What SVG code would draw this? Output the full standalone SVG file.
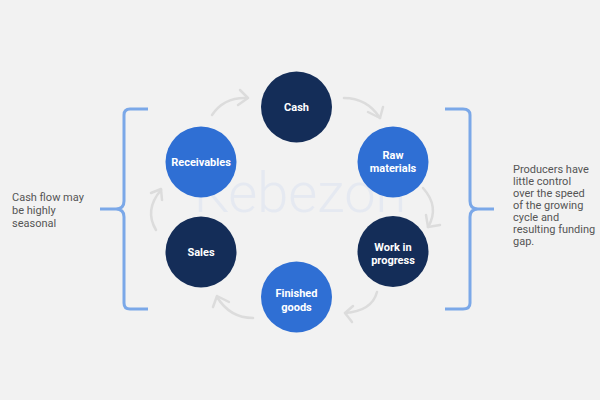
<svg xmlns="http://www.w3.org/2000/svg" width="600" height="400" viewBox="0 0 600 400">
<defs>
<style>
.dark{fill:#142d58}
.blue{fill:#2f6fd4}
.lbl{font-family:Roboto,"Liberation Sans",sans-serif;font-weight:bold;font-size:11px;fill:#ffffff;text-anchor:middle}
.note{font-family:Roboto,"Liberation Sans",sans-serif;font-size:11px;fill:#555555}
.arc{fill:none;stroke:#dcdcdc;stroke-width:2.5;stroke-linecap:round;stroke-linejoin:round}
.brace{fill:none;stroke:#7ba8e8;stroke-width:3;stroke-linecap:butt;stroke-linejoin:round}
</style>
</defs>
<rect width="600" height="400" fill="#f2f2f2"/>
<text x="300" y="212" font-family="Roboto,'Liberation Sans',sans-serif" font-weight="300" font-size="56" fill="#e5e9f1" text-anchor="middle">Kebezon</text>
<g id="connectors">
<path class="arc" d="M212,115 Q224,97 247,98"/>
<path class="arc" d="M240,90 L248,98 L238,105"/>
<path class="arc" d="M344,98 Q367,98 380,118"/>
<path class="arc" d="M368,112 L380,118 L383,107"/>
<path class="arc" d="M423,188 Q440,207 428,227"/>
<path class="arc" d="M426,215 L428,227 L440,225"/>
<path class="arc" d="M377,292 Q372,311 345,313"/>
<path class="arc" d="M353,306 L345,313 L352,322"/>
<path class="arc" d="M253,318 Q230,318 217,297"/>
<path class="arc" d="M213,307 L217,296 L229,302"/>
<path class="arc" d="M156,230 Q144,210 161,190"/>
<path class="arc" d="M151,193 L161,189 L162,200"/>
</g>
<g id="brace-left"><path class="brace" d="M148,109 L130,109 Q124,109 124,115 L124,201 Q124,209 116,209 L100,209 M116,209 Q124,209 124,217 L124,303 Q124,309 130,309 L148,309"/></g>
<g id="brace-right"><path class="brace" d="M445,109 L463,109 Q470,109 470,115 L470,201 Q470,209 478,209 L494,209 M478,209 Q470,209 470,217 L470,303 Q470,309 463,309 L445,309"/></g>
<g id="cash"><circle class="dark" cx="296.5" cy="107" r="35.5"/><text class="lbl" x="296.5" y="111">Cash</text></g>
<g id="raw"><circle class="blue" cx="393" cy="162" r="35.5"/><text class="lbl" x="393" y="159">Raw</text><text class="lbl" x="393" y="172">materials</text></g>
<g id="wip"><circle class="dark" cx="393" cy="251.5" r="35.5"/><text class="lbl" x="393" y="251">Work in</text><text class="lbl" x="393" y="264">progress</text></g>
<g id="finished"><circle class="blue" cx="296.5" cy="297" r="35.5"/><text class="lbl" x="296.5" y="297">Finished</text><text class="lbl" x="296.5" y="311">goods</text></g>
<g id="sales"><circle class="dark" cx="201" cy="252" r="35.5"/><text class="lbl" x="201" y="256">Sales</text></g>
<g id="receivables"><circle class="blue" cx="201" cy="162" r="35.5"/><text class="lbl" x="201" y="166">Receivables</text></g>
<g id="note-left"><text class="note" x="12" y="201">Cash flow may</text><text class="note" x="12" y="214">be highly</text><text class="note" x="12" y="227">seasonal</text></g>
<g id="note-right"><text class="note" x="513" y="173">Producers have</text><text class="note" x="513" y="185">little control</text><text class="note" x="513" y="197">over the speed</text><text class="note" x="513" y="209">of the growing</text><text class="note" x="513" y="221">cycle and</text><text class="note" x="513" y="233">resulting funding</text><text class="note" x="513" y="245">gap.</text></g>
</svg>
